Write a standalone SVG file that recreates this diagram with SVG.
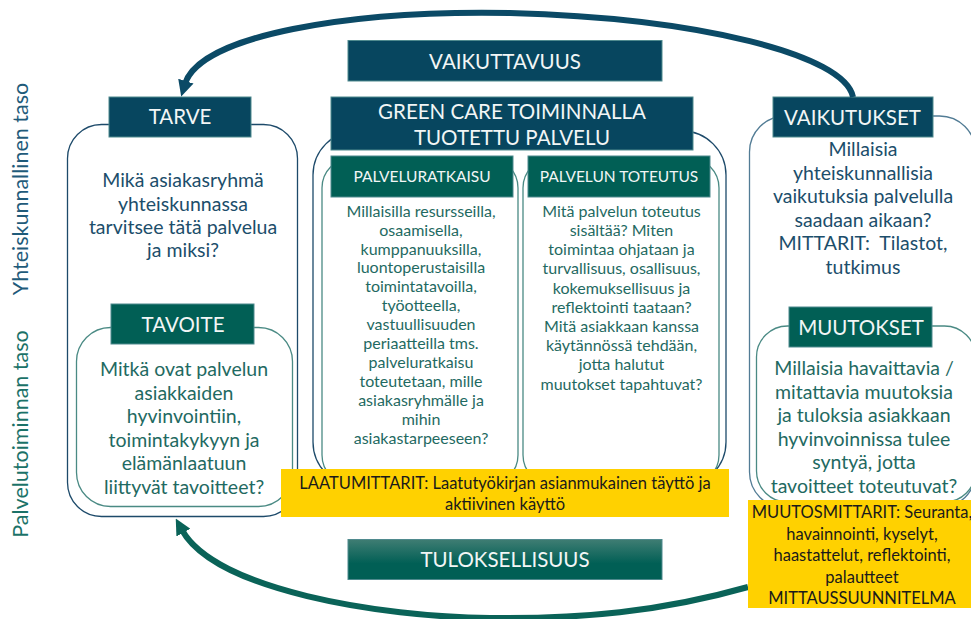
<svg xmlns="http://www.w3.org/2000/svg" width="971" height="619" viewBox="0 0 971 619">
<style>
text{font-family:Lato,"Liberation Sans",sans-serif;text-anchor:middle}
.bb{fill:#07465f;stroke:#4f8a8e;stroke-width:1}
.gb{fill:#015f55;stroke:#4f8a8e;stroke-width:1}
.tt{fill:#f2f6f6;font-size:20.5px}
.st{fill:#f2f6f6;font-size:15.5px}
.bt{fill:#1c4e6b;font-size:19.5px}
.gt{fill:#1f6a62;font-size:19.5px}
.ct{fill:#1f6a62;font-size:16px}
.yt{fill:#1a1a1a;font-size:16.5px}
.ob{fill:none;stroke:#1d4a6a;stroke-width:1.3}
.ot{fill:none;stroke:#4a8a84;stroke-width:1.3}
.yb{fill:#ffd100}
</style>
<defs>
<marker id="ab" viewBox="0 0 16 16" refX="3" refY="8" markerWidth="16" markerHeight="16" markerUnits="userSpaceOnUse" orient="auto"><path d="M0,0 L16,8 L0,16 z" fill="#0b4a66"/></marker>
<marker id="ag" viewBox="0 0 16 16" refX="3" refY="8" markerWidth="16" markerHeight="16" markerUnits="userSpaceOnUse" orient="auto"><path d="M0,0 L16,8 L0,16 z" fill="#0a6358"/></marker>
<linearGradient id="gr" x1="0" y1="0" x2="0" y2="1"><stop offset="0" stop-color="#3f7d73"/><stop offset="0.6" stop-color="#015f55"/><stop offset="1" stop-color="#015f55"/></linearGradient>
</defs>

<text transform="translate(28,189) rotate(-90)" style="font-size:21.5px;fill:#1f5b7a">Yhteiskunnallinen taso</text>
<text transform="translate(28,434) rotate(-90)" style="font-size:21.5px;fill:#1b7268">Palvelutoiminnan taso</text>

<g id="tarve">
<rect class="ob" x="67.5" y="124.5" width="230" height="392" rx="34"/>
<rect class="bb" x="109" y="97" width="142" height="40"/>
<text class="tt" x="180" y="124">TARVE</text>
<text class="bt" x="183" y="187">Mikä asiakasryhmä</text>
<text class="bt" x="183" y="210.5">yhteiskunnassa</text>
<text class="bt" x="183" y="234">tarvitsee tätä palvelua</text>
<text class="bt" x="183" y="257">ja miksi?</text>
</g>

<g id="tavoite">
<rect class="ot" x="76.5" y="327.5" width="216" height="179" rx="34"/>
<rect class="gb" x="111" y="304" width="143" height="40"/>
<text class="tt" x="183" y="331.5">TAVOITE</text>
<text class="gt" x="184" y="376">Mitkä ovat palvelun</text>
<text class="gt" x="184" y="399.5">asiakkaiden</text>
<text class="gt" x="184" y="423">hyvinvointiin,</text>
<text class="gt" x="184" y="446.5">toimintakykyyn ja</text>
<text class="gt" x="184" y="470">elämänlaatuun</text>
<text class="gt" x="184" y="493.5">liittyvät tavoitteet?</text>
</g>

<g id="palvelu">
<rect class="ob" x="313" y="131" width="413" height="355" rx="44"/>
<rect class="ot" x="322" y="158" width="196" height="327" rx="30"/>
<rect class="ot" x="523" y="158" width="196" height="327" rx="30"/>
<rect class="bb" x="331" y="97" width="362" height="53"/>
<text class="tt" x="512" y="118.5">GREEN CARE TOIMINNALLA</text>
<text class="tt" x="512" y="145">TUOTETTU PALVELU</text>
</g>

<g id="palveluratkaisu">
<rect class="gb" x="331" y="156" width="182" height="41"/>
<text class="st" x="422" y="182">PALVELURATKAISU</text>
<text class="ct" x="421" y="216.7">Millaisilla resursseilla,</text>
<text class="ct" x="421" y="235.6">osaamisella,</text>
<text class="ct" x="421" y="254.5">kumppanuuksilla,</text>
<text class="ct" x="421" y="273.4">luontoperustaisilla</text>
<text class="ct" x="421" y="292.3">toimintatavoilla,</text>
<text class="ct" x="421" y="311.2">työotteella,</text>
<text class="ct" x="421" y="330.1">vastuullisuuden</text>
<text class="ct" x="421" y="349">periaatteilla tms.</text>
<text class="ct" x="421" y="367.9">palveluratkaisu</text>
<text class="ct" x="421" y="386.8">toteutetaan, mille</text>
<text class="ct" x="421" y="405.7">asiakasryhmälle ja</text>
<text class="ct" x="421" y="424.6">mihin</text>
<text class="ct" x="421" y="443.5">asiakastarpeeseen?</text>
</g>

<g id="toteutus">
<rect class="gb" x="528" y="156" width="182" height="41"/>
<text class="st" x="619" y="182">PALVELUN TOTEUTUS</text>
<text class="ct" x="621.5" y="216.7">Mitä palvelun toteutus</text>
<text class="ct" x="621.5" y="235.9">sisältää? Miten</text>
<text class="ct" x="621.5" y="255.1">toimintaa ohjataan ja</text>
<text class="ct" x="621.5" y="274.3">turvallisuus, osallisuus,</text>
<text class="ct" x="621.5" y="293.5">kokemuksellisuus ja</text>
<text class="ct" x="621.5" y="312.7">reflektointi taataan?</text>
<text class="ct" x="621.5" y="331.9">Mitä asiakkaan kanssa</text>
<text class="ct" x="621.5" y="351.1">käytännössä tehdään,</text>
<text class="ct" x="621.5" y="370.3">jotta halutut</text>
<text class="ct" x="621.5" y="389.5">muutokset tapahtuvat?</text>
</g>

<g id="vaikutukset">
<rect x="749.5" y="116" width="226" height="392" rx="36" fill="none" stroke="#527c95" stroke-width="1.3"/>
<rect class="bb" x="773" y="97" width="160" height="40"/>
<text class="tt" x="852.5" y="125">VAIKUTUKSET</text>
<text class="bt" x="863" y="156">Millaisia</text>
<text class="bt" x="863" y="179.5">yhteiskunnallisia</text>
<text class="bt" x="863" y="203">vaikutuksia palvelulla</text>
<text class="bt" x="863" y="226.5">saadaan aikaan?</text>
<text class="bt" x="863" y="250" xml:space="preserve">MITTARIT:  Tilastot,</text>
<text class="bt" x="863" y="273.5">tutkimus</text>
</g>

<g id="muutokset">
<rect class="ot" x="756.5" y="326" width="219" height="176" rx="31"/>
<rect class="gb" x="789" y="307" width="143" height="40"/>
<text class="tt" x="861" y="335">MUUTOKSET</text>
<text class="gt" x="864" y="375">Millaisia havaittavia /</text>
<text class="gt" x="864" y="398.5">mitattavia muutoksia</text>
<text class="gt" x="864" y="422">ja tuloksia asiakkaan</text>
<text class="gt" x="864" y="445.5">hyvinvoinnissa tulee</text>
<text class="gt" x="864" y="469">syntyä, jotta</text>
<text class="gt" x="864" y="492.5">tavoitteet toteutuvat?</text>
</g>

<g id="connectors">
<path d="M853,97 C845,55 700,18 510,13 C350,10 200,35 185,84" fill="none" stroke="#0b4a66" stroke-width="6" marker-end="url(#ab)"/>
<path d="M748,587 C660,612 580,619 490,618 C380,617 215,590 182,530" fill="none" stroke="#0a6358" stroke-width="6" marker-end="url(#ag)"/>
</g>

<g id="vaikuttavuus">
<rect class="bb" x="348" y="40.5" width="314" height="40.5"/>
<text class="tt" x="505" y="68.5">VAIKUTTAVUUS</text>
</g>

<g id="tuloksellisuus">
<rect x="348" y="539.5" width="314" height="40" fill="url(#gr)" stroke="#4f8a8e" stroke-width="1"/>
<text class="tt" x="505" y="567">TULOKSELLISUUS</text>
</g>

<g id="laatumittarit">
<rect class="yb" x="281" y="469" width="448" height="48"/>
<text class="yt" x="505" y="489">LAATUMITTARIT: Laatutyökirjan asianmukainen täyttö ja</text>
<text class="yt" x="505" y="510">aktiivinen käyttö</text>
</g>

<g id="muutosmittarit">
<rect class="yb" x="748" y="500" width="223" height="108"/>
<text class="yt" x="862" y="518">MUUTOSMITTARIT: Seuranta,</text>
<text class="yt" x="862" y="539.5">havainnointi, kyselyt,</text>
<text class="yt" x="862" y="561">haastattelut, reflektointi,</text>
<text class="yt" x="862" y="582.5">palautteet</text>
<text class="yt" x="862" y="604">MITTAUSSUUNNITELMA</text>
</g>
</svg>
